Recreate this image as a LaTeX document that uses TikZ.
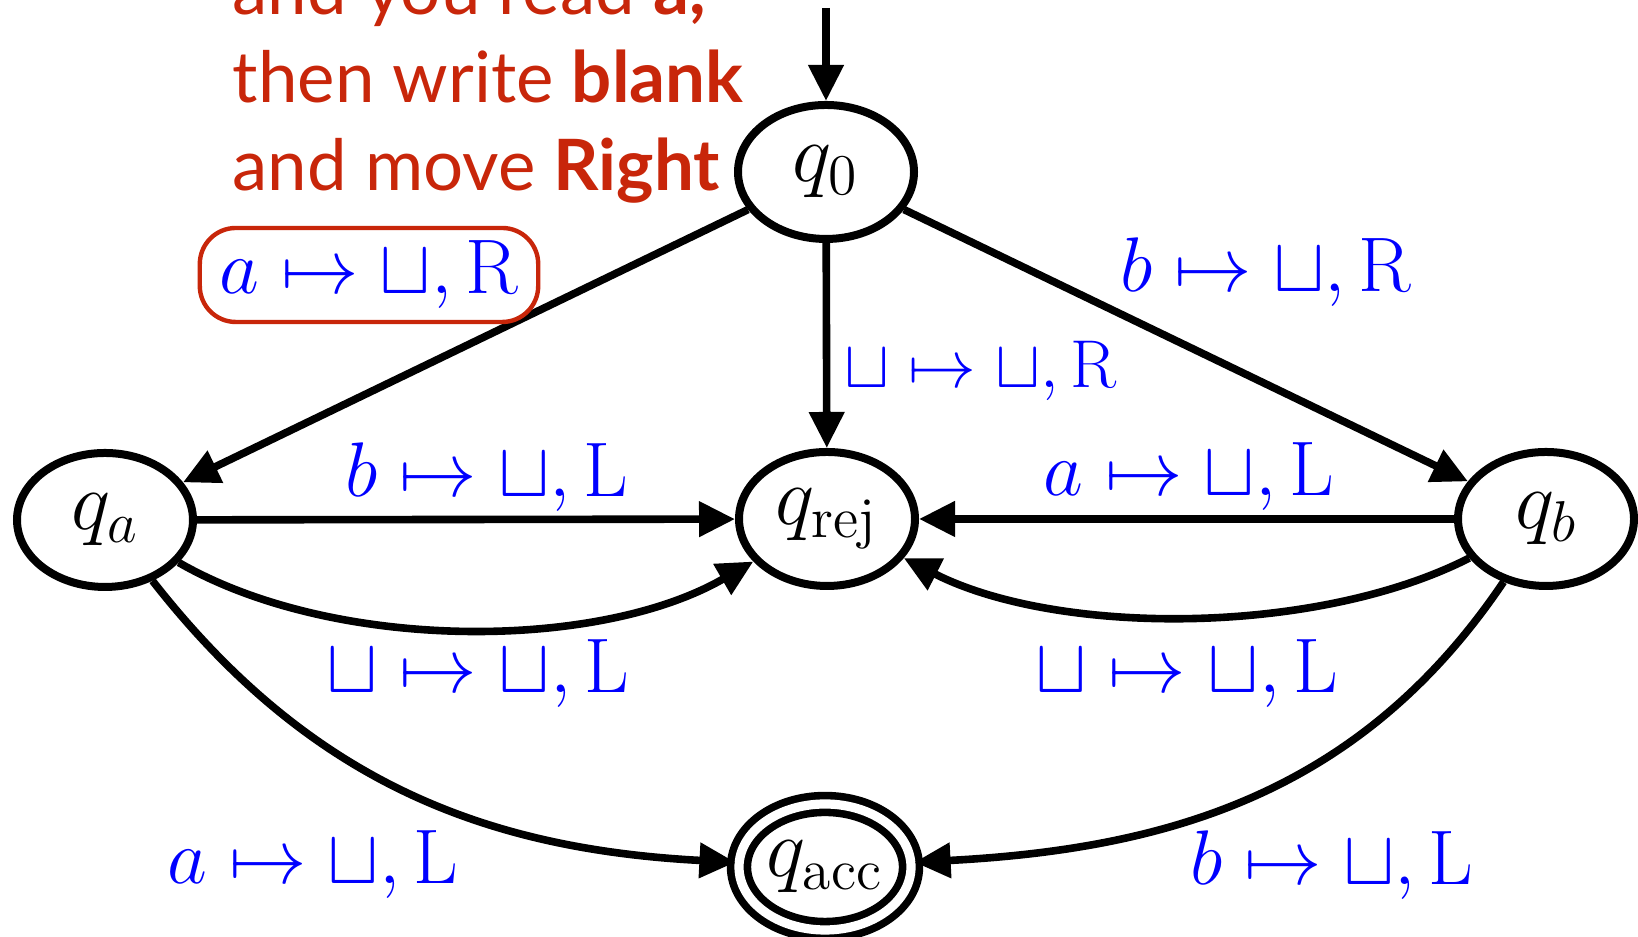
\documentclass[tikz,border=0pt]{standalone}
\usepackage{fontspec}
\newfontfamily\gill{Lato}
\usetikzlibrary{arrows.meta,shapes.geometric}
\definecolor{kred}{RGB}{200,38,10}
\newcommand\lblm[1]{\scalebox{1.12}{$#1$}}
\begin{document}
\begin{tikzpicture}[x=0.25pt,y=0.25pt,
  state/.style={ellipse,draw=black,line width=2pt,inner sep=0pt,minimum width=44pt,minimum height=33.5pt,font=\fontsize{20.74}{25}\selectfont},
  edge/.style={line width=1.9pt,-{Triangle[length=9pt,width=8.5pt]}},
  lab/.style={text=blue,inner sep=0pt,font=\fontsize{17.28}{21}\selectfont},
  note/.style={text=kred,inner sep=0pt,anchor=base west,font=\gill\fontsize{17.7}{22}\selectfont}]
\useasboundingbox (0,0) rectangle (1638,937);
\clip (0,0) rectangle (1638,937);
% states
\node[state] (q0) at (826,765) {$q_0$};
\node[state] (qa) at (105,417) {$q_a$};
\node[state] (qrej) at (827,418) {$q_{\mathrm{rej}}$};
\node[state] (qb) at (1546,418) {$q_b$};
\node[state,double,double distance=2.3pt,line width=1.9pt,minimum width=43pt,minimum height=31.5pt] (qacc) at (825,70) {$q_{\mathrm{acc}}$};
\coordinate (s) at (826,929);
% edges
\draw[edge] (s) -- (q0);
\draw[edge] (q0) -- (qa);
\draw[edge] (q0) -- (qb);
\draw[edge] (q0) -- (qrej);
\draw[edge] (qa) -- (qrej);
\draw[edge] (qb) -- (qrej);
\draw[edge] (qa) to[out=-30,in=210,looseness=0.8] (qrej);
\draw[edge] (qb) to[out=207,in=-27,looseness=0.78] (qrej);
\draw[edge] (qa) to[out=-52,in=177,looseness=1] (qacc);
\draw[edge] (qb) to[out=236,in=3,looseness=1] (qacc);
% labels
\node[lab,draw=kred,line width=1.1pt,rounded corners=9pt,inner xsep=5pt,minimum height=23.5pt] (l1) at (369,662) {\lblm{a\mapsto\sqcup,\mathrm{R}}};
\node[lab] (l2) at (1266,665) {\lblm{b\mapsto\sqcup,\mathrm{R}}};
\node[lab,anchor=west] (l3) at (844,566) {\scalebox{0.98}{$\sqcup\mapsto\sqcup,\mathrm{R}$}};
\node[lab] (l4) at (487,460) {\lblm{b\mapsto\sqcup,\mathrm{L}}};
\node[lab] (l5) at (1189,460) {\lblm{a\mapsto\sqcup,\mathrm{L}}};
\node[lab] (l6) at (478,263) {\lblm{\sqcup\mapsto\sqcup,\mathrm{L}}};
\node[lab] (l7) at (1187,263) {\lblm{\sqcup\mapsto\sqcup,\mathrm{L}}};
\node[lab] (l8) at (313,72) {\lblm{a\mapsto\sqcup,\mathrm{L}}};
\node[lab] (l9) at (1332,72) {\lblm{b\mapsto\sqcup,\mathrm{L}}};
% note text
\node[note] (t1) at (232,922) {and you read \textbf{a,}};
\node[note] (t2) at (232,834) {then write \textbf{blank}};
\node[note] (t3) at (232,746) {and move \textbf{Right}};
\end{tikzpicture}
\end{document}
